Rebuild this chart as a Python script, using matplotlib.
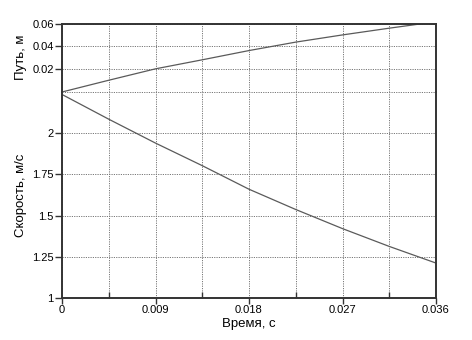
import matplotlib

matplotlib.use('Agg')
import matplotlib.pyplot as plt
from matplotlib.ticker import MultipleLocator

# values
time_s = [0, 0.0045, 0.009, 0.0135, 0.018, 0.0225, 0.027, 0.0315, 0.036]
path_m = [0, 0.0103, 0.0203, 0.0282, 0.0363, 0.0437, 0.0500, 0.0559, 0.0615]
speed_ms = [2.235, 2.085, 1.94, 1.803, 1.66, 1.537, 1.421, 1.313, 1.212]

x_ticks = [0, 0.009, 0.018, 0.027, 0.036]
x_labels = ["0", "0.009", "0.018", "0.027", "0.036"]
path_ticks = [0.02, 0.04, 0.06]
speed_ticks = [1, 1.25, 1.5, 1.75, 2]


def main():
    plt.rcParams['font.family'] = ['Liberation Sans', 'DejaVu Sans']
    fig = plt.figure(figsize=(4.72, 3.4), dpi=100)

    left, right = 62 / 472, 436 / 472
    y_bot = 1 - 298 / 340
    y_mid = 1 - 92 / 340
    y_top = 1 - 23.5 / 340

    ax_top = fig.add_axes([left, y_mid, right - left, y_top - y_mid])
    ax_bot = fig.add_axes([left, y_bot, right - left, y_mid - y_bot], sharex=ax_top)

    line_kw = dict(color='#5a5a5a', lw=0.9)
    ax_top.plot(time_s, path_m, **line_kw)
    ax_bot.plot(time_s, speed_ms, **line_kw)

    grid_kw = dict(color='#777777', ls=(0, (1.2, 1.2)), lw=0.7)
    for ax in (ax_top, ax_bot):
        ax.set_xlim(0, 0.036)
        ax.xaxis.set_major_locator(MultipleLocator(0.009))
        ax.xaxis.set_minor_locator(MultipleLocator(0.0045))
        ax.grid(True, which='both', axis='x', **grid_kw)
        ax.grid(True, which='major', axis='y', **grid_kw)
        ax.set_axisbelow(True)
        for s in ax.spines.values():
            s.set_color('#333333')
            s.set_linewidth(1.4)
        ax.tick_params(axis='y', direction='out', length=5, width=1,
                       color='#333333', labelsize=8, pad=1)
        ax.tick_params(axis='x', which='major', direction='out', length=4,
                       width=1, color='#333333', labelsize=8, pad=1)
        ax.tick_params(axis='x', which='minor', direction='in', length=4,
                       width=1, color='#333333')

    ax_top.set_ylim(0, 0.06)
    ax_top.set_yticks(path_ticks)
    ax_top.set_yticklabels(["0.02", "0.04", "0.06"])
    ax_top.spines['bottom'].set_visible(False)
    ax_top.tick_params(axis='x', which='both', bottom=False, labelbottom=False)
    ax_top.set_ylabel("Путь, м", fontsize=9.5)
    ax_top.yaxis.set_label_coords(-0.093, 0.5)

    ax_bot.set_ylim(1, 2.25)
    ax_bot.set_yticks(speed_ticks)
    ax_bot.set_yticklabels(["1", "1.25", "1.5", "1.75", "2"])
    ax_bot.spines['top'].set_visible(False)
    # dotted divider between the two panels
    ax_bot.axhline(2.25, clip_on=False, zorder=0.5, **grid_kw)
    ax_bot.set_xticks(x_ticks)
    ax_bot.set_xticklabels(x_labels)
    ax_bot.set_ylabel("Скорость, м/с", fontsize=9.5)
    ax_bot.yaxis.set_label_coords(-0.093, 0.5)
    ax_bot.set_xlabel("Время, с", fontsize=9.5, labelpad=2)

    fig.savefig("out.png", dpi=100)
    plt.close(fig)


if __name__ == "__main__":
    main()
